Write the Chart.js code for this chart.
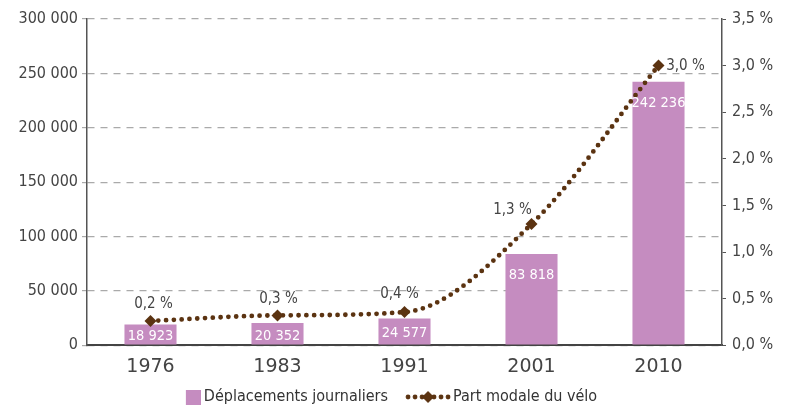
<!DOCTYPE html>
<html>
<head>
<meta charset="utf-8">
<script src="https://cdn.jsdelivr.net/npm/chart.js@4.4.1/dist/chart.umd.min.js"></script>
<style>
  html, body { margin: 0; padding: 0; background: #fff; }
  #wrap { width: 785px; height: 409px; }
</style>
</head>
<body>
<div id="wrap"><canvas id="chart"></canvas></div>
<script>
// Data
const years = ['1976', '1983', '1991', '2001', '2010'];
const dailyTrips = [18923, 20352, 24577, 83818, 242236];
const bikeShare = [0.26, 0.32, 0.355, 1.3, 3.0];
const shareLabels = ['0,2 %', '0,3 %', '0,4 %', '1,3 %', '3,0 %'];
const leftTicks = [0, 50000, 100000, 150000, 200000, 250000, 300000];
const rightTicks = [0, 0.5, 1, 1.5, 2, 2.5, 3, 3.5];

const narrow = "'Liberation Sans Narrow', 'DejaVu Sans Condensed', 'Roboto', sans-serif";
const barColor = '#c58cc0';
const lineColor = '#5b3311';
const textColor = '#444';

function fmtThousands(v) {
    return String(v).replace(/\B(?=(\d{3})+(?!\d))/g, ' ');
}

// legend icons; the canvases are wider than the 48px box so they sit close to the text
function lineLegendIcon() {
    const c = document.createElement('canvas');
    c.width = 64; c.height = 14;
    const g = c.getContext('2d');
    g.fillStyle = lineColor;
    [19, 26, 33, 45, 52, 59].forEach(x => {
        g.beginPath(); g.arc(x, 7, 2.4, 0, Math.PI * 2); g.fill();
    });
    g.beginPath();
    g.moveTo(39, 1); g.lineTo(45, 7); g.lineTo(39, 13); g.lineTo(33, 7);
    g.closePath(); g.fill();
    return c;
}

function barLegendIcon() {
    const c = document.createElement('canvas');
    c.width = 58; c.height = 15;
    const g = c.getContext('2d');
    g.fillStyle = barColor;
    g.fillRect(43, 0, 15, 15);
    return c;
}

// the bar icon leaves empty room on its left, so pull the legend back to the centre
const legendShift = {
    id: 'legendShift',
    afterLayout(chart) {
        chart.legend.left -= 20;
        chart.legend.right -= 20;
    }
};

// value labels on bars and points
const valueLabels = {
    id: 'valueLabels',
    afterDatasetsDraw(chart) {
        const ctx = chart.ctx;
        ctx.save();
        const bars = chart.getDatasetMeta(0).data;
        ctx.font = '14.5px ' + narrow;
        ctx.fillStyle = '#fff';
        ctx.textAlign = 'center';
        ctx.textBaseline = 'middle';
        bars.forEach((b, i) => {
            const y = Math.min(b.y + 21, (b.y + b.base) / 2 + 2);
            ctx.fillText(fmtThousands(dailyTrips[i]), b.x, y);
        });
        const pts = chart.getDatasetMeta(1).data;
        const offs = [[3, -17], [1, -16], [-5, -18], [-19, -14], [27, 1]];
        ctx.font = '15px ' + narrow;
        ctx.fillStyle = textColor;
        pts.forEach((p, i) => {
            ctx.fillText(shareLabels[i], p.x + offs[i][0], p.y + offs[i][1]);
        });
        ctx.restore();
    }
};

new Chart(document.getElementById('chart'), {
    data: {
        labels: years,
        datasets: [{
            type: 'bar',
            label: 'Déplacements journaliers',
            data: dailyTrips,
            backgroundColor: barColor,
            barPercentage: 0.41,
            categoryPercentage: 1,
            yAxisID: 'y',
            order: 2
        }, {
            type: 'line',
            label: 'Part modale du vélo',
            data: bikeShare,
            borderColor: lineColor,
            backgroundColor: lineColor,
            borderWidth: 4.8,
            borderDash: [0, 7.8],
            borderCapStyle: 'round',
            cubicInterpolationMode: 'monotone',
            pointStyle: 'rectRot',
            pointRadius: 6,
            pointBorderWidth: 0,
            yAxisID: 'y1',
            order: 1
        }]
    },
    options: {
        responsive: true,
        maintainAspectRatio: false,
        animation: false,
        layout: { padding: { top: 19, left: 0, right: 0, bottom: -6 } },
        plugins: {
            tooltip: { enabled: false },
            legend: {
                position: 'bottom',
                labels: {
                    usePointStyle: true,
                    pointStyleWidth: 48,
                    color: '#333',
                    padding: 9,
                    font: { family: narrow, size: 16 },
                    generateLabels(chart) {
                        return chart.data.datasets.map((ds, i) => ({
                            text: ds.label,
                            pointStyle: i === 0 ? barLegendIcon() : lineLegendIcon(),
                            fontColor: '#333',
                            lineWidth: 0,
                            datasetIndex: i
                        }));
                    }
                }
            }
        },
        scales: {
            x: {
                grid: { display: false },
                border: { color: '#444', width: 2 },
                ticks: { color: textColor, font: { family: "'DejaVu Sans', sans-serif", size: 19 }, padding: 2 }
            },
            y: {
                position: 'left',
                min: 0, max: 300000,
                afterBuildTicks(axis) { axis.ticks = leftTicks.map(v => ({ value: v })); },
                afterFit(axis) { axis.width = 87; },
                grid: { color: '#aaa', lineWidth: 1.2, tickLength: 5, drawTicks: true },
                border: { color: '#555', width: 1.5, dash: [7, 6] },
                ticks: {
                    color: textColor,
                    padding: 4,
                    font: { family: narrow, size: 16 },
                    callback: v => fmtThousands(v)
                }
            },
            y1: {
                position: 'right',
                min: 0, max: 3.5,
                afterBuildTicks(axis) { axis.ticks = rightTicks.map(v => ({ value: v })); },
                afterFit(axis) { axis.width = 63; },
                grid: { drawOnChartArea: false, color: '#555', tickLength: 4 },
                border: { color: '#555', width: 1.5 },
                ticks: {
                    color: textColor,
                    padding: 6,
                    font: { family: narrow, size: 16 },
                    callback: v => v.toFixed(1).replace('.', ',') + ' %'
                }
            }
        }
    },
    plugins: [valueLabels, legendShift]
});
</script>
</body>
</html>
